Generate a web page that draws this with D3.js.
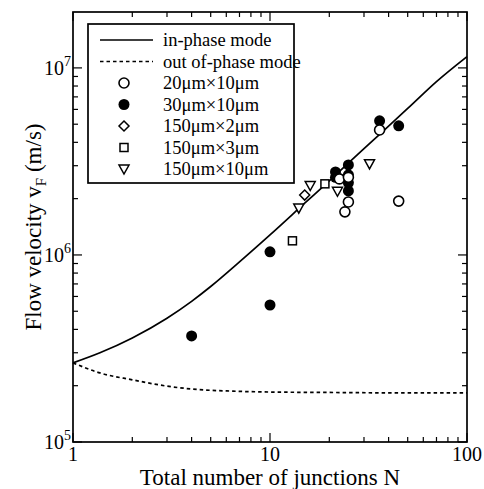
<!DOCTYPE html>
<html><head><meta charset="utf-8">
<script src="https://cdn.jsdelivr.net/npm/d3@7"></script>
<style>body{margin:0;background:#fff}</style>
</head><body><svg id="c" width="484" height="489"></svg>
<script>
// in-phase mode curve (N, v)
const inPhaseN = [1, 1.37, 2, 3, 4, 5, 7, 10, 15, 20, 30, 50, 70, 100];
const inPhaseV = [2.65e5, 3.0e5, 3.6e5, 4.59e5, 5.65e5, 6.78e5, 9.18e5, 1.28e6, 1.89e6, 2.49e6, 3.7e6, 6.07e6, 8.45e6, 1.15e7];
// out of-phase mode curve
const outPhaseN = [1, 1.37, 2, 3, 4, 6.5, 10, 20, 50, 100];
const outPhaseV = [2.65e5, 2.34e5, 2.15e5, 1.99e5, 1.92e5, 1.87e5, 1.85e5, 1.84e5, 1.83e5, 1.83e5];
// measured points
const c20N = [36, 45, 25, 24, 22.5, 25];
const c20V = [4.66e6, 1.94e6, 1.92e6, 1.7e6, 2.55e6, 2.6e6];
const c30N = [4, 10, 10, 36, 45, 25, 21.5, 21.5, 25, 25, 25];
const c30V = [3.69e5, 5.4e5, 1.04e6, 5.21e6, 4.9e6, 3.03e6, 2.78e6, 2.6e6, 2.68e6, 2.43e6, 2.2e6];
const d150x2N = [15];
const d150x2V = [2.09e6];
const s150x3N = [13, 19];
const s150x3V = [1.19e6, 2.4e6];
const t150x10N = [14, 16, 22, 32];
const t150x10V = [1.78e6, 2.35e6, 2.19e6, 3.07e6];
const legendLabels = ["in-phase mode", "out of-phase mode", "20\u03bcm\u00d710\u03bcm", "30\u03bcm\u00d710\u03bcm", "150\u03bcm\u00d72\u03bcm", "150\u03bcm\u00d73\u03bcm", "150\u03bcm\u00d710\u03bcm"];
const xTickVals = [1, 10, 100];
const yTickExp = [5, 6, 7];

const FF = '"Liberation Serif", "Times New Roman", serif';
const svg = d3.select("#c");
const L = 73, R = 467, T = 12, B = 442;
const x = d3.scaleLog().domain([1, 100]).range([L, R]);
const y = d3.scaleLog().domain([1e5, 1.99e7]).range([B, T]);

// frame
svg.append("rect").attr("x", L).attr("y", T).attr("width", R - L).attr("height", B - T)
  .attr("fill", "none").attr("stroke", "#000").attr("stroke-width", 1.7);

// ticks
const xMinor = [], yMinor = [];
for (let d = 1; d < 100; d *= 10) for (let k = 2; k <= 9; k++) xMinor.push(d * k);
for (let d = 1e5; d < 2e7; d *= 10) for (let k = 2; k <= 9; k++) if (d * k <= 1.99e7) yMinor.push(d * k);
const tk = svg.append("g").attr("stroke", "#000").attr("stroke-width", 1.2);
xTickVals.forEach(v => { tk.append("line").attr("x1", x(v)).attr("x2", x(v)).attr("y1", B).attr("y2", B - 9);
  tk.append("line").attr("x1", x(v)).attr("x2", x(v)).attr("y1", T).attr("y2", T + 9); });
xMinor.forEach(v => { tk.append("line").attr("x1", x(v)).attr("x2", x(v)).attr("y1", B).attr("y2", B - 5);
  tk.append("line").attr("x1", x(v)).attr("x2", x(v)).attr("y1", T).attr("y2", T + 5); });
yTickExp.forEach(e => { const v = Math.pow(10, e);
  tk.append("line").attr("x1", L).attr("x2", L + 9).attr("y1", y(v)).attr("y2", y(v));
  tk.append("line").attr("x1", R).attr("x2", R - 9).attr("y1", y(v)).attr("y2", y(v)); });
yMinor.forEach(v => { tk.append("line").attr("x1", L).attr("x2", L + 5).attr("y1", y(v)).attr("y2", y(v));
  tk.append("line").attr("x1", R).attr("x2", R - 5).attr("y1", y(v)).attr("y2", y(v)); });

// tick labels
xTickVals.forEach(v => svg.append("text").style("font-family", FF).attr("x", x(v)).attr("y", 461).attr("text-anchor", "middle")
  .attr("font-size", 20).text(v));
yTickExp.forEach(e => { const t = svg.append("text").style("font-family", FF).attr("x", 71).attr("y", y(Math.pow(10, e)) + 7)
  .attr("text-anchor", "end").attr("font-size", 20);
  t.append("tspan").text("10");
  t.append("tspan").attr("font-size", 14).attr("dy", -9).text(e); });

// axis titles
svg.append("text").style("font-family", FF).attr("x", 270).attr("y", 485).attr("text-anchor", "middle").attr("font-size", 23)
  .text("Total number of junctions N");
const yt = svg.append("text").style("font-family", FF).attr("transform", "translate(41,227) rotate(-90)").attr("text-anchor", "middle").attr("font-size", 23);
yt.append("tspan").text("Flow velocity v");
yt.append("tspan").attr("font-size", 15).attr("dy", 5).text("F");
yt.append("tspan").attr("dy", -5).text(" (m/s)");

// curves
const line = d3.line().x(d => x(d[0])).y(d => y(d[1])).curve(d3.curveMonotoneX);
svg.append("path").datum(inPhaseN.map((n, i) => [n, inPhaseV[i]])).attr("d", line)
  .attr("fill", "none").attr("stroke", "#000").attr("stroke-width", 1.7);
svg.append("path").datum(outPhaseN.map((n, i) => [n, outPhaseV[i]])).attr("d", line)
  .attr("fill", "none").attr("stroke", "#000").attr("stroke-width", 1.7).attr("stroke-dasharray", "3.5,3");

// markers
function marker(g, type, cx, cy) {
  if (type === "oc") g.append("circle").attr("cx", cx).attr("cy", cy).attr("r", 5).attr("fill", "#fff").attr("stroke", "#000").attr("stroke-width", 1.6);
  if (type === "fc") g.append("circle").attr("cx", cx).attr("cy", cy).attr("r", 5.5).attr("fill", "#000");
  if (type === "d") g.append("path").attr("d", `M${cx},${cy-5}L${cx+5},${cy}L${cx},${cy+5}L${cx-5},${cy}Z`).attr("fill", "#fff").attr("stroke", "#000").attr("stroke-width", 1.5);
  if (type === "s") g.append("rect").attr("x", cx - 4).attr("y", cy - 4).attr("width", 8).attr("height", 8).attr("fill", "#fff").attr("stroke", "#000").attr("stroke-width", 1.5);
  if (type === "t") g.append("path").attr("d", `M${cx-5},${cy-4}L${cx+5},${cy-4}L${cx},${cy+5}Z`).attr("fill", "#fff").attr("stroke", "#000").attr("stroke-width", 1.5);
}
const pg = svg.append("g");
c30N.forEach((n, i) => marker(pg, "fc", x(n), y(c30V[i])));
c20N.forEach((n, i) => marker(pg, "oc", x(n), y(c20V[i])));
d150x2N.forEach((n, i) => marker(pg, "d", x(n), y(d150x2V[i])));
s150x3N.forEach((n, i) => marker(pg, "s", x(n), y(s150x3V[i])));
t150x10N.forEach((n, i) => marker(pg, "t", x(n), y(t150x10V[i])));

// legend
const lg = svg.append("g");
lg.append("rect").attr("x", 88).attr("y", 24).attr("width", 206).attr("height", 159)
  .attr("fill", "#fff").attr("stroke", "#000").attr("stroke-width", 1.7);
const types = ["line", "dash", "oc", "fc", "d", "s", "t"];
legendLabels.forEach((lab, i) => {
  const yy = 40 + i * 21.5;
  if (types[i] === "line") lg.append("line").attr("x1", 100).attr("x2", 153).attr("y1", yy).attr("y2", yy).attr("stroke", "#000").attr("stroke-width", 1.7);
  else if (types[i] === "dash") lg.append("line").attr("x1", 100).attr("x2", 153).attr("y1", yy).attr("y2", yy).attr("stroke", "#000").attr("stroke-width", 1.7).attr("stroke-dasharray", "3.5,3");
  else marker(lg, types[i], 124, yy);
  lg.append("text").style("font-family", FF).attr("x", 163).attr("y", yy + 6).attr("font-size", 18.5).text(lab);
});
</script></body></html>
